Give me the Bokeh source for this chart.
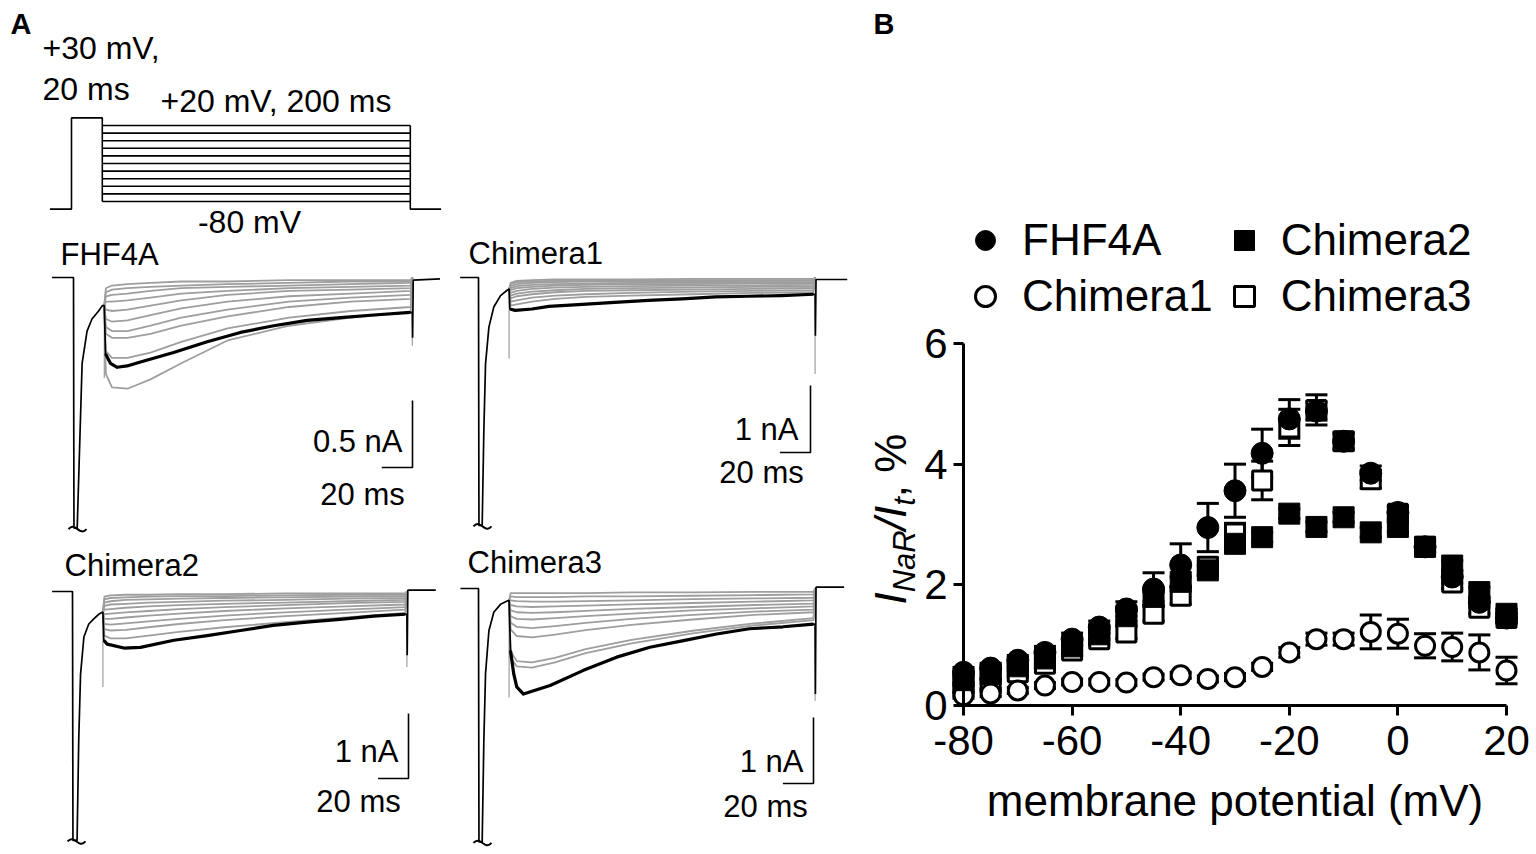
import math
from bokeh.plotting import figure
from bokeh.models import (Range1d, ColumnDataSource, FixedTicker, Whisker, TeeHead,
                          Legend, LegendItem, LinearAxis)
from bokeh.layouts import row
from bokeh.embed import file_html
from bokeh.resources import INLINE
from bokeh.core.properties import value

FONT = "Liberation Sans"

# ================= DATA : panel A, voltage protocol =================
protocol_holding_mv = -90
protocol_prepulse_mv = 30
protocol_step_mv = [-80, -70, -60, -50, -40, -30, -20, -10, 0, 10, 20]
protocol_edges_ms = [-14, 0, 20, 220, 240]   # start, prepulse on, step on, step off, stop

# ================= DATA : panel A, current traces (ms, nA) =================
gray_t_ms = [20, 21, 25, 35, 50, 70, 100, 140, 180, 219, 220]

fhf4a_t = [-14, 0, 0.3, 2.4, 5.6, 8.8, 12, 16.3, 18.7, 20, 20.8, 24, 28.4, 34.8, 43.5, 65,
           86.8, 108.4, 130, 151.7, 173.4, 195, 218.8, 220, 220.2, 220.6, 238]
fhf4a_i = [0, 0, -1.87, -1.87, -0.64, -0.40, -0.31, -0.25, -0.21, -0.21, -0.57, -0.64, -0.67,
           -0.66, -0.63, -0.56, -0.48, -0.41, -0.36, -0.32, -0.30, -0.28, -0.26, -0.26, -0.45,
           -0.02, -0.01]
fhf4a_gray = [
    [-0.21, -0.72, -0.82, -0.83, -0.76, -0.64, -0.47, -0.36, -0.30, -0.26, 0],
    [-0.21, -0.55, -0.60, -0.60, -0.56, -0.48, -0.38, -0.30, -0.25, -0.22, 0],
    [-0.21, -0.42, -0.45, -0.45, -0.42, -0.36, -0.29, -0.22, -0.18, -0.16, 0],
    [-0.21, -0.37, -0.40, -0.40, -0.36, -0.30, -0.24, -0.18, -0.15, -0.13, 0],
    [-0.21, -0.31, -0.33, -0.32, -0.28, -0.23, -0.18, -0.14, -0.12, -0.10, 0],
    [-0.21, -0.24, -0.25, -0.24, -0.21, -0.17, -0.13, -0.10, -0.09, -0.08, 0],
    [-0.21, -0.18, -0.18, -0.17, -0.15, -0.12, -0.10, -0.08, -0.07, -0.06, 0],
    [-0.21, -0.14, -0.13, -0.12, -0.10, -0.08, -0.07, -0.06, -0.05, -0.04, 0],
    [-0.21, -0.11, -0.09, -0.08, -0.07, -0.06, -0.05, -0.04, -0.03, -0.03, 0],
    [-0.21, -0.08, -0.06, -0.05, -0.04, -0.03, -0.03, -0.02, -0.02, -0.02, 0],
]
fhf4a_spike_t = [20, 220]
fhf4a_spike_top = [-0.21, -0.26]
fhf4a_spike_bottom = [-0.75, -0.51]

chim1_t = [-12, 0, 0.3, 2.4, 3.5, 4.6, 6.8, 10, 14.4, 18.7, 20, 20.5, 24, 35, 46, 68, 89, 111,
           133, 155, 176, 198, 219, 220, 220.2, 220.6, 241]
chim1_i = [0, 0, -3.70, -3.70, -2.28, -1.29, -0.74, -0.44, -0.27, -0.19, -0.17, -0.47, -0.49,
           -0.47, -0.43, -0.40, -0.37, -0.34, -0.32, -0.29, -0.28, -0.27, -0.25, -0.25, -0.87,
           -0.03, -0.03]
chim1_gray = [
    [-0.17, -0.42, -0.40, -0.36, -0.32, -0.29, -0.27, -0.25, -0.23, -0.22, 0],
    [-0.17, -0.36, -0.34, -0.30, -0.27, -0.25, -0.23, -0.21, -0.20, -0.19, 0],
    [-0.17, -0.31, -0.28, -0.25, -0.22, -0.20, -0.19, -0.18, -0.17, -0.16, 0],
    [-0.17, -0.27, -0.24, -0.21, -0.19, -0.17, -0.16, -0.15, -0.14, -0.14, 0],
    [-0.17, -0.23, -0.20, -0.17, -0.15, -0.14, -0.13, -0.12, -0.12, -0.11, 0],
    [-0.17, -0.19, -0.16, -0.14, -0.12, -0.11, -0.10, -0.10, -0.09, -0.09, 0],
    [-0.17, -0.16, -0.13, -0.11, -0.10, -0.09, -0.08, -0.08, -0.07, -0.07, 0],
    [-0.17, -0.13, -0.10, -0.08, -0.07, -0.06, -0.06, -0.06, -0.05, -0.05, 0],
    [-0.17, -0.10, -0.07, -0.06, -0.05, -0.04, -0.04, -0.04, -0.04, -0.04, 0],
    [-0.17, -0.08, -0.05, -0.04, -0.03, -0.03, -0.03, -0.02, -0.02, -0.02, 0],
]
chim1_spike_t = [20, 220]
chim1_spike_top = [-0.17, -0.25]
chim1_spike_bottom = [-1.21, -1.44]

chim2_t = [-13.4, 0, 0.3, 3, 4.1, 5.3, 7.5, 10.7, 14, 17.3, 19.5, 20, 20.6, 22.8, 33.8, 44.7,
           66.7, 88.6, 110.5, 132, 154, 176, 198, 219, 220, 220.2, 220.6, 239]
chim2_i = [0, 0, -3.83, -3.83, -2.29, -1.27, -0.70, -0.50, -0.42, -0.35, -0.32, -0.32, -0.75,
           -0.81, -0.87, -0.86, -0.75, -0.68, -0.60, -0.52, -0.47, -0.43, -0.38, -0.35, -0.35,
           -0.98, 0.02, 0.02]
chim2_gray = [
    [-0.32, -0.68, -0.72, -0.72, -0.68, -0.62, -0.55, -0.47, -0.40, -0.33, 0],
    [-0.32, -0.58, -0.60, -0.59, -0.55, -0.50, -0.44, -0.38, -0.33, -0.28, 0],
    [-0.32, -0.50, -0.51, -0.49, -0.46, -0.42, -0.37, -0.32, -0.28, -0.24, 0],
    [-0.32, -0.42, -0.42, -0.40, -0.37, -0.34, -0.30, -0.26, -0.23, -0.20, 0],
    [-0.32, -0.35, -0.34, -0.32, -0.30, -0.27, -0.24, -0.21, -0.18, -0.16, 0],
    [-0.32, -0.28, -0.27, -0.25, -0.23, -0.21, -0.19, -0.17, -0.15, -0.13, 0],
    [-0.32, -0.22, -0.20, -0.19, -0.17, -0.16, -0.14, -0.13, -0.11, -0.10, 0],
    [-0.32, -0.17, -0.15, -0.13, -0.12, -0.11, -0.10, -0.09, -0.08, -0.07, 0],
    [-0.32, -0.12, -0.10, -0.09, -0.08, -0.07, -0.07, -0.06, -0.05, -0.05, 0],
    [-0.32, -0.08, -0.06, -0.05, -0.05, -0.04, -0.04, -0.03, -0.03, -0.03, 0],
]
chim2_spike_t = [20, 220]
chim2_spike_top = [-0.32, -0.35]
chim2_spike_bottom = [-1.47, -1.16]

chim3_t = [-11.8, 0, 0.3, 2.4, 3.5, 4.6, 6.8, 10, 14.4, 18.7, 20, 20.9, 23, 25, 29.4, 36, 46.8,
           68.6, 90.3, 112, 134, 155.6, 177, 199, 219, 220, 220.2, 220.6, 239]
chim3_i = [0, 0, -3.84, -3.84, -2.30, -1.29, -0.64, -0.36, -0.24, -0.19, -0.18, -0.94, -1.29,
           -1.49, -1.60, -1.55, -1.47, -1.24, -1.04, -0.89, -0.79, -0.69, -0.61, -0.58, -0.54,
           -0.54, -1.60, 0.02, 0.02]
chim3_gray = [
    [-0.18, -1.05, -1.18, -1.20, -1.12, -0.98, -0.83, -0.68, -0.56, -0.48, 0],
    [-0.18, -0.95, -1.10, -1.12, -1.05, -0.92, -0.78, -0.64, -0.53, -0.45, 0],
    [-0.18, -0.62, -0.72, -0.74, -0.70, -0.63, -0.55, -0.47, -0.40, -0.36, 0],
    [-0.18, -0.52, -0.58, -0.60, -0.57, -0.52, -0.46, -0.40, -0.35, -0.32, 0],
    [-0.18, -0.42, -0.46, -0.47, -0.45, -0.42, -0.38, -0.33, -0.30, -0.27, 0],
    [-0.18, -0.33, -0.36, -0.37, -0.36, -0.34, -0.31, -0.28, -0.25, -0.23, 0],
    [-0.18, -0.25, -0.27, -0.28, -0.27, -0.26, -0.24, -0.22, -0.20, -0.18, 0],
    [-0.18, -0.18, -0.19, -0.20, -0.20, -0.19, -0.18, -0.16, -0.15, -0.14, 0],
    [-0.18, -0.12, -0.13, -0.13, -0.13, -0.12, -0.12, -0.11, -0.10, -0.09, 0],
    [-0.18, -0.07, -0.07, -0.07, -0.07, -0.07, -0.06, -0.06, -0.05, -0.05, 0],
]
chim3_spike_t = [20, 220]
chim3_spike_top = [-0.18, -0.54]
chim3_spike_bottom = [-1.65, -1.70]

scalebar_ms = 20
scalebar_na = {"fhf4a": 0.5, "chim1": 1, "chim2": 1, "chim3": 1}

# ================= DATA : panel B =================
membrane_mv = [-80, -75, -70, -65, -60, -55, -50, -45, -40, -35, -30, -25, -20, -15, -10, -5,
               0, 5, 10, 15, 20]
fhf4a_pct = [0.55, 0.62, 0.75, 0.88, 1.10, 1.30, 1.60, 1.93, 2.33, 2.95, 3.56, 4.18, 4.75, 4.88,
             4.38, 3.85, 3.20, 2.63, 2.13, 1.71, 1.45]
fhf4a_sem = [0.08, 0.08, 0.08, 0.10, 0.10, 0.10, 0.12, 0.27, 0.35, 0.40, 0.44, 0.40, 0.32, 0.15,
             0.12, 0.12, 0.10, 0.10, 0.10, 0.08, 0.08]
chim1_pct = [0.17, 0.20, 0.25, 0.33, 0.39, 0.39, 0.38, 0.47, 0.50, 0.44, 0.47, 0.64, 0.88, 1.10,
             1.10, 1.22, 1.19, 0.99, 0.97, 0.88, 0.58]
chim1_sem = [0.05, 0.05, 0.05, 0.05, 0.05, 0.05, 0.05, 0.05, 0.05, 0.05, 0.06, 0.06, 0.08, 0.10,
             0.10, 0.28, 0.24, 0.20, 0.23, 0.29, 0.22]
chim2_pct = [0.42, 0.52, 0.65, 0.78, 0.98, 1.18, 1.48, 1.80, 2.05, 2.24, 2.68, 2.79, 3.18, 2.96,
             3.12, 2.87, 2.96, 2.63, 2.32, 1.88, 1.52]
chim2_sem = [0.08] * 21
chim3_pct = [0.30, 0.36, 0.55, 0.69, 0.91, 1.10, 1.21, 1.52, 1.82, 2.30, 2.85, 3.73, 4.61, 4.90,
             4.38, 3.75, 3.18, 2.63, 2.04, 1.62, 1.45]
chim3_sem = [0.08, 0.08, 0.08, 0.08, 0.08, 0.10, 0.10, 0.12, 0.14, 0.15, 0.17, 0.32, 0.30, 0.25,
             0.15, 0.15, 0.12, 0.10, 0.10, 0.10, 0.08]
x_ticks = [-80, -60, -40, -20, 0, 20]
y_ticks = [0, 2, 4, 6]

# ================= LAYOUT =================
A_W, B_W, H = 858, 676, 852
PX0, PY0 = 0, 0
B_X0 = PX0 + A_W
GRAY = "#9e9e9e"

def label(fig, x, y, txt, size, align="left", style="normal", **kw):
    fig.text(x=[x], y=[y], text=[txt], text_align=align, text_baseline="middle",
             text_font=value(FONT), text_font_size=f"{size}px", text_font_style=style,
             text_color="black", **kw)

pA = figure(width=A_W, height=H, x_range=Range1d(PX0, PX0 + A_W), y_range=Range1d(PY0 + H, PY0),
            output_backend="svg", toolbar_location=None, min_border=0,
            x_axis_type=None, y_axis_type=None, outline_line_color=None)

def add_ranges(fig, name, x0, ppms, y0, ppu, xl, xr):
    fig.extra_x_ranges[name + "_x"] = Range1d((xl - x0) / ppms, (xr - x0) / ppms)
    fig.extra_y_ranges[name + "_y"] = Range1d(-(PY0 + H - y0) / ppu, -(PY0 - y0) / ppu)

# protocol: t=0 at x=71, 1.54 px/ms; +20 mV at y=125, 0.76 px/mV
pA.extra_x_ranges["prot_x"] = Range1d((PX0 - 71) / 1.54, (PX0 + A_W - 71) / 1.54)
pA.extra_y_ranges["prot_y"] = Range1d(20 - (PY0 + H - 125) / 0.76, 20 - (PY0 - 125) / 0.76)
pr = dict(x_range_name="prot_x", y_range_name="prot_y", line_color="black", line_width=1.6)
t0, t_on, t_step, t_off, t_end = protocol_edges_ms
pA.line([t0, t_on, t_on, t_step, t_step],
        [protocol_holding_mv, protocol_holding_mv, protocol_prepulse_mv, protocol_prepulse_mv,
         min(protocol_step_mv)], **pr)
pA.multi_line([[t_step, t_off] for _ in protocol_step_mv], [[v, v] for v in protocol_step_mv], **pr)
pA.line([t_off, t_off, t_end], [max(protocol_step_mv), protocol_holding_mv, protocol_holding_mv], **pr)

panels = [
    ("fhf4a", 73, 1.54, 277, 134, fhf4a_t, fhf4a_i, fhf4a_gray,
     (fhf4a_spike_t, fhf4a_spike_top, fhf4a_spike_bottom), "FHF4A", (60, 254),
     (412, 467), "0.5 nA", (402, 441), (362, 494)),
    ("chim1", 478, 1.53, 277, 67, chim1_t, chim1_i, chim1_gray,
     (chim1_spike_t, chim1_spike_top, chim1_spike_bottom), "Chimera1", (468, 253),
     (810, 452), "1 nA", (798, 429), (761, 472)),
    ("chim2", 72, 1.52, 591, 65, chim2_t, chim2_i, chim2_gray,
     (chim2_spike_t, chim2_spike_top, chim2_spike_bottom), "Chimera2", (64, 565),
     (408, 778), "1 nA", (398, 751), (358, 801)),
    ("chim3", 478, 1.53, 588, 66, chim3_t, chim3_i, chim3_gray,
     (chim3_spike_t, chim3_spike_top, chim3_spike_bottom), "Chimera3", (467, 562),
     (813, 783), "1 nA", (803, 761), (765, 806)),
]

for (name, x0, ppms, y0, ppu, bt, bi, grays, spikes, lab, lpos,
     corner, bar_label, blpos, tlpos) in panels:
    add_ranges(pA, name, x0, ppms, y0, ppu, PX0, PX0 + A_W)
    rk = dict(x_range_name=name + "_x", y_range_name=name + "_y")
    pA.multi_line([gray_t_ms] * len(grays), grays, line_color=GRAY, line_width=1.8,
                  line_join="round", **rk)
    st, stop, sbot = spikes
    pA.segment(x0=st, y0=stop, x1=st, y1=sbot, line_color=GRAY, line_width=1.2, **rk)
    pA.line(bt, bi, line_color="black", line_width=1.7, **rk)
    step_t = [t for t in bt if 20 < t < 220]
    step_i = [i for t, i in zip(bt, bi) if 20 < t < 220]
    pA.line(step_t, step_i, line_color="black", line_width=3.2, line_join="round", **rk)
    # axis-break squiggle under the truncated peak (offsets in px converted to data units)
    clip = min(bi)
    bx, by = 1.0 / ppms, 1.0 / ppu
    pA.bezier(x0=[-5 * bx], y0=[clip - 1 * by], x1=[13 * bx], y1=[clip - 1 * by],
              cx0=[2 * bx], cy0=[clip + 7 * by], cx1=[6 * bx], cy1=[clip - 9 * by],
              line_color="black", line_width=2, **rk)
    tc = (corner[0] - x0) / ppms
    ic = -(corner[1] - y0) / ppu
    pA.line([tc - scalebar_ms, tc, tc], [ic, ic, ic + scalebar_na[name]],
            line_color="black", line_width=1.6, **rk)
    label(pA, blpos[0], blpos[1], bar_label, 31, "right")
    label(pA, tlpos[0], tlpos[1], "20 ms", 31, "center")
    label(pA, lpos[0], lpos[1], lab, 31, "left")

for txt, xx, yy, al in [("+30 mV,", 42, 47, "left"), ("20 ms", 42, 88, "left"),
                        ("+20 mV, 200 ms", 160, 100, "left"), ("-80 mV", 249, 221, "center")]:
    label(pA, xx, yy, txt, 32, al)
label(pA, 10, 23, "A", 29, "left", "bold")

# ================= PANEL B =================
MV_PX = 5.43
PCT_PX = 60.33
X_ORIGIN = 963
Y_ORIGIN = 705
xr = Range1d(-80 + (B_X0 - X_ORIGIN) / MV_PX, -80 + (B_X0 + B_W - X_ORIGIN) / MV_PX)
yr = Range1d(-(PY0 + H - Y_ORIGIN) / PCT_PX, -(PY0 - Y_ORIGIN) / PCT_PX)
pB = figure(width=B_W, height=H, x_range=xr, y_range=yr, output_backend="svg",
            toolbar_location=None, min_border=0, x_axis_type=None, y_axis_type=None,
            outline_line_color=None)
pB.extra_x_ranges["px"] = Range1d(B_X0, B_X0 + B_W)
pB.extra_y_ranges["py"] = Range1d(PY0 + H, PY0)

xaxis = LinearAxis(fixed_location=0, bounds=(-80, 20), ticker=FixedTicker(ticks=x_ticks),
                   major_label_overrides={v: str(v) for v in x_ticks},
                   axis_label="membrane potential (mV)")
yaxis = LinearAxis(fixed_location=-80, bounds=(0, 6), ticker=FixedTicker(ticks=y_ticks),
                   major_label_overrides={v: str(v) for v in y_ticks})
for ax in (xaxis, yaxis):
    ax.axis_line_width = 3
    ax.axis_line_color = "black"
    ax.major_tick_line_width = 3
    ax.major_tick_line_color = "black"
    ax.major_tick_in = 0
    ax.major_tick_out = 10
    ax.minor_tick_line_color = None
    ax.major_label_text_font = FONT
    ax.major_label_text_font_size = "42px"
    ax.major_label_text_color = "black"
    ax.axis_label_text_font = FONT
    ax.axis_label_text_font_size = "44px"
    ax.axis_label_text_font_style = "normal"
    ax.axis_label_text_color = "black"
xaxis.major_label_standoff = 10
xaxis.axis_label_standoff = 18
yaxis.major_label_standoff = 6
pB.add_layout(xaxis, "below")
pB.add_layout(yaxis, "left")

series = [
    ("Chimera3", chim3_pct, chim3_sem, dict(marker="square", size=19, fill_color="white",
                                           line_color="black", line_width=3)),
    ("Chimera1", chim1_pct, chim1_sem, dict(marker="circle", size=19, fill_color="white",
                                           line_color="black", line_width=3)),
    ("Chimera2", chim2_pct, chim2_sem, dict(marker="square", size=21, fill_color="black",
                                           line_color="black", line_width=1)),
    ("FHF4A", fhf4a_pct, fhf4a_sem, dict(marker="circle", size=22, fill_color="black",
                                        line_color="black", line_width=1)),
]
rends = {}
for name, vals, sem, style in series:
    src = ColumnDataSource(dict(x=membrane_mv, y=vals,
                                lo=[v - e for v, e in zip(vals, sem)],
                                hi=[v + e for v, e in zip(vals, sem)]))
    w = Whisker(source=src, base="x", lower="lo", upper="hi", line_width=3, line_color="black",
                upper_head=TeeHead(size=22, line_width=3, line_color="black"),
                lower_head=TeeHead(size=22, line_width=3, line_color="black"), level="underlay")
    pB.add_layout(w)
    rends[name] = pB.scatter("x", "y", source=src, **style)

legend_top = 215
legend = Legend(items=[LegendItem(label="FHF4A", renderers=[rends["FHF4A"]]),
                       LegendItem(label="Chimera1", renderers=[rends["Chimera1"]]),
                       LegendItem(label="Chimera2", renderers=[rends["Chimera2"]]),
                       LegendItem(label="Chimera3", renderers=[rends["Chimera3"]])],
                ncols=2, location=(102, PY0 + H - (legend_top + 106)), label_text_font=FONT,
                label_text_font_size="44px",
                label_text_color="black", glyph_width=50, glyph_height=50, label_standoff=12,
                spacing=6, padding=0, margin=0, border_line_color=None,
                background_fill_alpha=0)
pB.add_layout(legend)

# rotated y label  I_NaR / I_t , %   (x = centre line of the glyphs)
adv = {"I": .278, "N": .722, "a": .556, "R": .722, "/": .278, "t": .278, ",": .278, " ": .278,
       "%": .889}
ylab_parts = [("I", 44, 890, "italic"), ("NaR", 31, 904, "italic"), ("/", 44, 890, "italic"),
              ("I", 44, 890, "italic"), ("t", 31, 904, "italic"), (", %", 44, 890, "normal")]
yy = 604
for txt, fs, xc, sty in ylab_parts:
    pB.text(x=[xc], y=[yy], text=[txt], angle=math.pi / 2, text_align="left",
            text_baseline="middle", text_font=value(FONT), text_font_size=f"{fs}px",
            text_font_style=sty, text_color="black", x_range_name="px", y_range_name="py")
    yy -= sum(adv[c] for c in txt) * fs
label(pB, 873, 23, "B", 29, "left", "bold", x_range_name="px", y_range_name="py")

layout = row(pA, pB)
open("out.html", "w").write(file_html(layout, INLINE))
